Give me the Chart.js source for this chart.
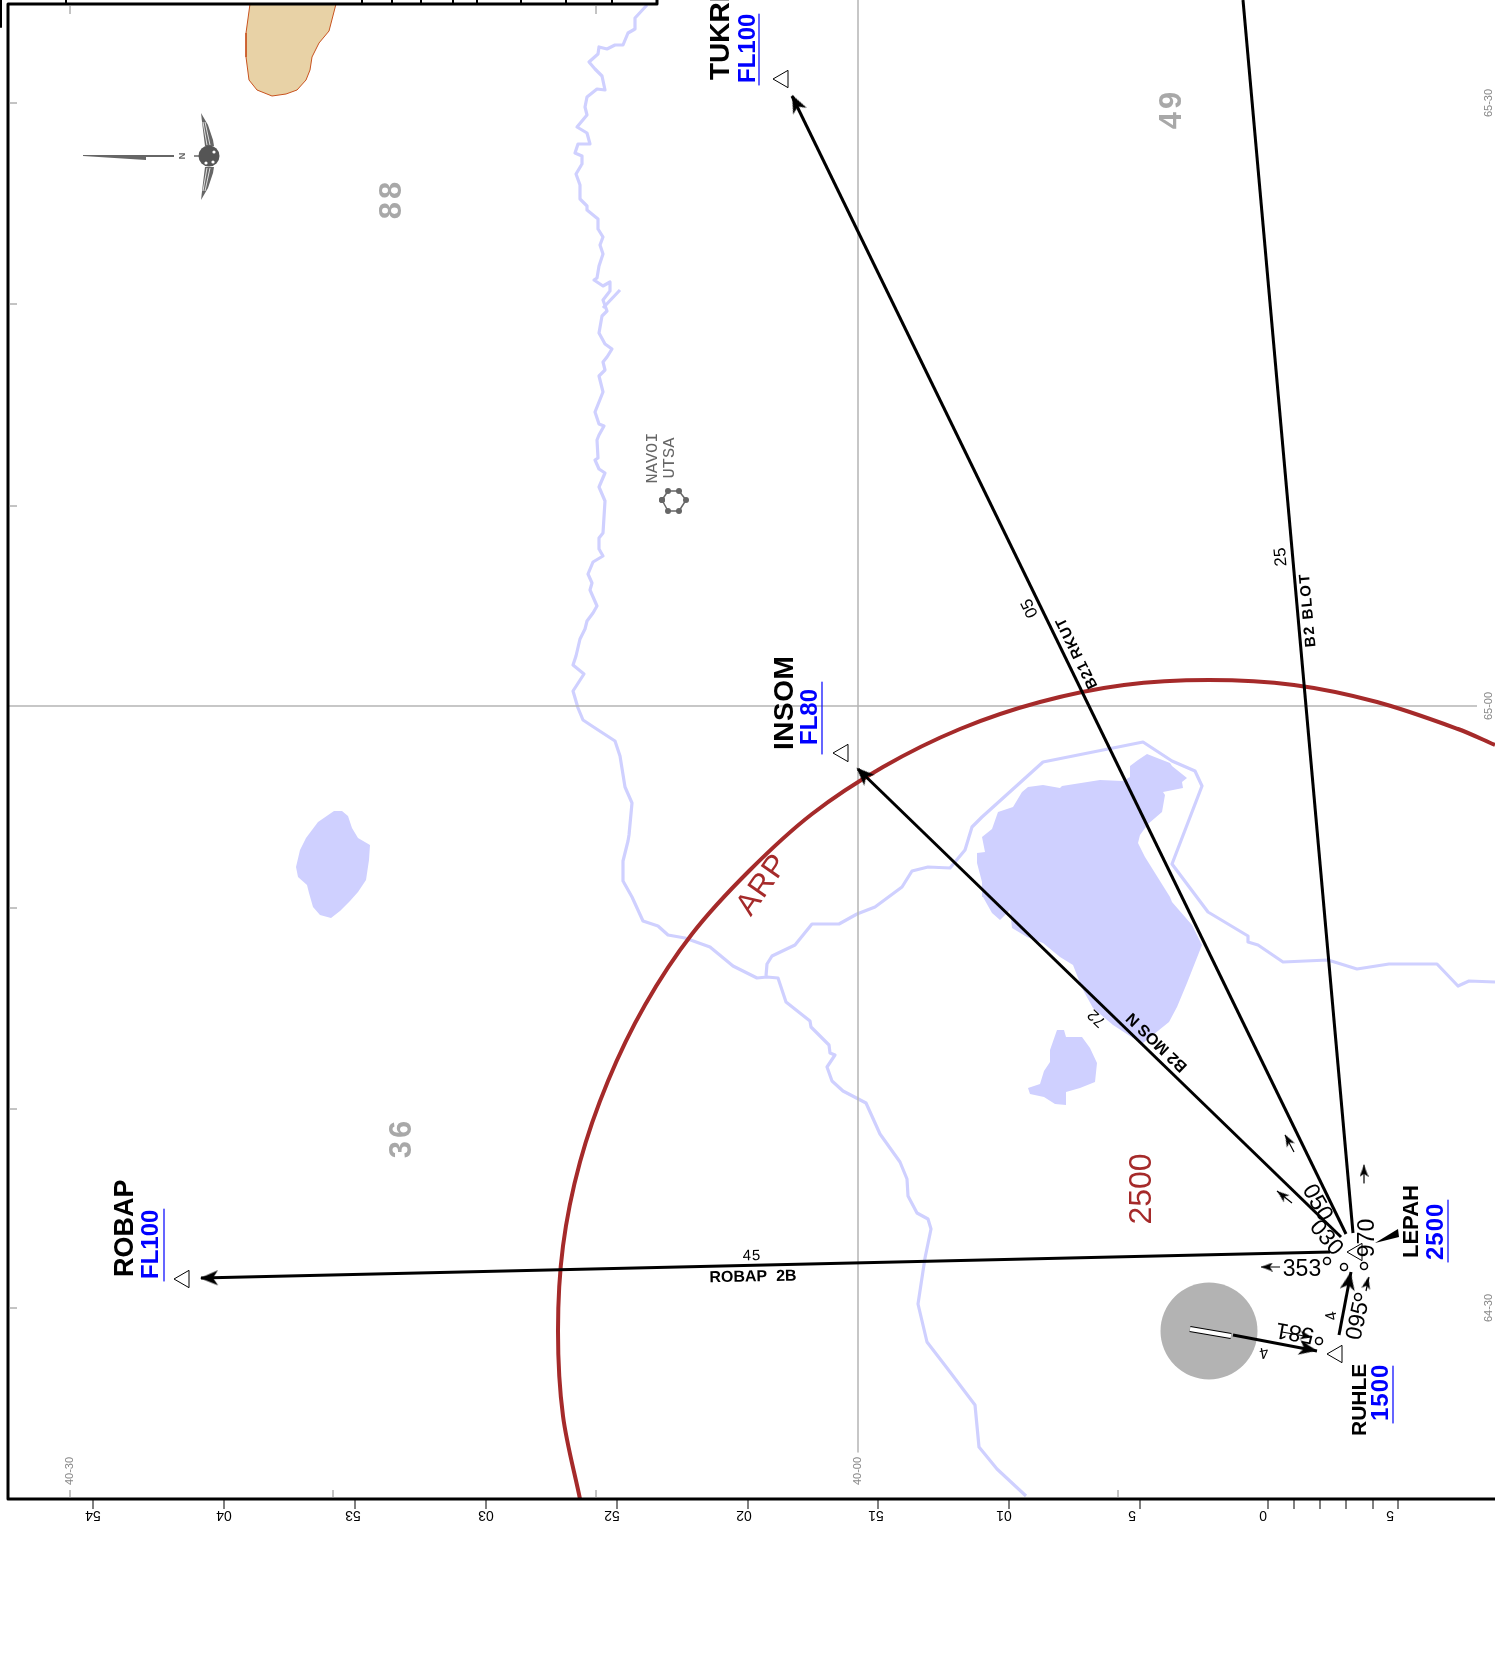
<!DOCTYPE html>
<html>
<head>
<meta charset="utf-8">
<title>Chart</title>
<script src="https://cdn.jsdelivr.net/npm/chart.js@4"></script>
<style>
  html, body { margin: 0; padding: 0; background: #fff; }
  canvas { display: block; }
</style>
</head>
<body>
<canvas id="map" width="1495" height="1663"></canvas>
<script>
// map units
const westRiver = [[647,5],[635,18],[635,29],[628,33],[623,45],[615,45],[607,49],[599,47],[598,54],[589,62],[595,69],[602,76],[605,90],[597,89],[587,97],[585,107],[587,115],[577,127],[587,133],[590,144],[578,144],[575,153],[582,156],[582,164],[576,174],[580,185],[580,199],[587,206],[587,210],[598,219],[598,229],[603,237],[600,245],[603,254],[599,266],[597,278],[594,280],[603,286],[610,282],[610,291],[603,300],[607,311],[602,316],[599,333],[605,344],[612,349],[607,357],[603,362],[605,370],[599,376],[603,392],[595,412],[599,424],[604,426],[599,435],[597,440],[598,458],[595,460],[599,469],[605,473],[599,487],[605,501],[603,533],[599,538],[599,549],[603,556],[598,559],[593,562],[588,574],[592,583],[590,590],[597,606],[593,613],[587,621],[585,629],[580,639],[576,656],[573,665],[584,674],[573,691],[578,708],[583,720],[592,726],[615,741],[620,756],[625,787],[632,803],[629,835],[628,841],[623,861],[623,881],[632,897],[643,921],[658,926],[668,935],[685,938],[710,947],[733,966],[757,978],[767,977],[778,978],[786,1002],[810,1021],[811,1027],[829,1045],[830,1053],[835,1055],[827,1067],[832,1081],[843,1091],[866,1103],[880,1134],[900,1162],[907,1179],[908,1196],[917,1213],[928,1219],[931,1229],[925,1258],[918,1304],[927,1342],[947,1368],[975,1405],[979,1447],[997,1469],[1026,1496]];
const westRiverSpur = [[603,308],[620,290]];
const lakeRiver = [[766,976],[767,964],[772,956],[795,945],[812,924],[839,924],[857,914],[875,907],[902,887],[912,871],[928,867],[950,868],[965,850],[972,827],[982,817],[1043,762],[1143,742],[1172,761],[1195,771],[1202,786],[1172,864],[1208,912],[1248,936],[1248,942],[1258,945],[1283,962],[1328,960],[1357,969],[1389,964],[1437,964],[1458,986],[1469,981],[1495,982]];

const bigLake = [[1028,787],[1043,785],[1060,788],[1062,786],[1100,780],[1123,781],[1130,777],[1130,766],[1138,760],[1147,754],[1170,763],[1172,766],[1187,778],[1182,782],[1183,788],[1163,792],[1165,795],[1162,812],[1148,824],[1140,835],[1138,843],[1145,857],[1170,897],[1172,902],[1192,925],[1202,945],[1187,983],[1177,1007],[1169,1022],[1143,1043],[1133,1038],[1113,1025],[1093,1008],[1082,988],[1073,965],[1060,957],[1043,943],[1027,937],[1012,928],[1010,910],[1000,920],[992,913],[983,897],[982,882],[977,863],[977,853],[985,852],[982,837],[992,829],[998,812],[1013,807],[1022,792]];
const smallLake = [[1057,1030],[1064,1030],[1066,1037],[1082,1037],[1090,1048],[1097,1063],[1095,1082],[1080,1088],[1066,1092],[1066,1105],[1055,1104],[1044,1097],[1030,1094],[1028,1088],[1040,1084],[1044,1071],[1050,1062],[1050,1050]];
const westLake = [[334,811],[342,811],[348,816],[352,828],[358,838],[370,845],[369,860],[366,880],[358,892],[350,901],[340,911],[331,918],[320,915],[313,907],[309,893],[307,885],[298,877],[296,867],[300,850],[306,838],[318,822]];
const sandArea = [[250,4],[246,33],[246,57],[249,80],[257,90],[272,96],[286,94],[297,90],[306,80],[310,70],[312,57],[319,43],[329,31],[336,4]];

const arpArc = [[580,1499],[563,1416],[558,1331],[563,1246],[580,1162],[608,1081],[645,1005],[692,934],[749,871],[812,814],[883,767],[960,729],[1040,702],[1124,685],[1209,680],[1294,685],[1377,702],[1458,729],[1495,745]];

const routeTukri = [[1346,1234],[792,96]];
const routeBlot = [[1353,1233],[1243,0]];
const routeInsom = [[1341,1237],[858,769]];
const routeRobap = [[1330,1252],[201,1278]];
const legLepah = [[1339,1335],[1351,1272]];
const legRuhle = [[1233,1335],[1317,1351]];
const smallArrowShafts = [[1285,1135],[1294,1152],[null,null],[1277,1191],[1292,1203],[null,null],[1364,1165],[1364,1183],[null,null],[1261,1267],[1280,1267],[null,null],[1369,1277],[1366,1291],[null,null],[1282,1332],[1310,1337]];

const arrowHeads = [[796,103],[863,774],[209,1278],[1349,1281],[1308,1349]];
const arrowHeadAngles = [-26,-46,-91,11,101];
const smallArrowHeads = [[1288,1140],[1282,1195],[1364,1171],[1267,1267],[1367,1283],[1306,1336]];
const smallArrowAngles = [-28,-51,0,-90,12,100];

const waypoints = [[783,79],[843,753],[184,1279],[1337,1354],[1357,1252]];
const degreeMarks = [[1327,1261],[1344,1267],[1364,1266],[1358,1297],[1319,1341]];
const airport = [[1209,1331]];
const runway = [[1190,1329],[1231,1336]];
const navaid = [[662,500],[668,491],[679,491],[686,500],[679,511],[668,511],[662,500]];

const underlines = [[759,14],[759,85],[null,null],[822,682],[822,754],[null,null],[164,1209],[164,1281],[null,null],[1448,1200],[1448,1262],[null,null],[1393,1366],[1393,1423]];
const windFan = [[1375,1243],[1398,1229],[1399,1237]];

const compassNeedle = [[83,155],[174,155],[174,157],[146,157],[146,160],[83,156]];
const compassStem = [[194,156],[201,156]];
const compassGlobe = [[209,156]];
const globeSpots = [[214,152],[206,163],[213,162]];
const wingUpper = [[201,113],[208,125],[213,140],[214,146],[205,146],[203,130]];
const wingLower = [[201,200],[208,188],[213,173],[214,167],[205,167],[203,183]];
const wingFeathers = [[203,122],[207,145],[null,null],[205,122],[210,145],[null,null],[203,191],[207,168],[null,null],[205,191],[210,168]];

const frame = [[657,0],[657,4],[8,4],[8,1499],[1495,1499]];
const insetDividers = [[66,0],[66,4],[null,null],[362,0],[362,4],[null,null],[392,0],[392,4],[null,null],[421,0],[421,4],[null,null],[453,0],[453,4],[null,null],[477,0],[477,4],[null,null],[521,0],[521,4],[null,null],[566,0],[566,4],[null,null],[612,0],[612,4]];
const cornerBar = [[1,0],[1,27]];
const gridLat = [[8,706],[1477,706]];
const gridLon = [[858,0],[858,1452]];

// frame ticks
const leftTicks = [103,304,506,908,1109,1308];
const topTicks = [70,596];
const bottomTicks = [70,333,596,1118];
const bottomMajorTicks = [93,224,355,486,617,748,878,1009,1140,1268];
const bottomFineTicks = [1294,1320,1346,1373,1398];

const scaleLabels = ['54','04','53','03','52','02','51','01','5','0','5'];
const scaleLabelPos = [93,224,353,486,612,744,876,1004,1132,1263,1390];

const RIVER = '#cfd0ff', LAKE = '#cfd0ff', GREY = '#b5b5b5', RED = '#a52a2a', BLUE = '#0000ff';
const SANS = '"Liberation Sans", sans-serif';

const annotations = [
  // waypoints
  { t: 'TUKRI', x: 721, y: 80, r: -90, f: `bold 28px ${SANS}`, a: 'left' },
  { t: 'FL100', x: 748, y: 83, r: -90, f: `bold 24px ${SANS}`, c: BLUE, a: 'left' },
  { t: 'INSOM', x: 785, y: 750, r: -90, f: `bold 28px ${SANS}`, a: 'left', ls: 0.5 },
  { t: 'FL80', x: 810, y: 745, r: -90, f: `bold 24px ${SANS}`, c: BLUE, a: 'left' },
  { t: 'ROBAP', x: 126, y: 1277, r: -90, f: `bold 27px ${SANS}`, a: 'left' },
  { t: 'FL100', x: 151, y: 1279, r: -90, f: `bold 24px ${SANS}`, c: BLUE, a: 'left' },
  { t: 'LEPAH', x: 1412, y: 1258, r: -90, f: `bold 22px ${SANS}`, a: 'left' },
  { t: '2500', x: 1436, y: 1260, r: -90, f: `bold 24px ${SANS}`, c: BLUE, a: 'left', ls: 1 },
  { t: 'RUHLE', x: 1360, y: 1436, r: -90, f: `bold 21px ${SANS}`, a: 'left' },
  { t: '1500', x: 1381, y: 1421, r: -90, f: `bold 24px ${SANS}`, c: BLUE, a: 'left', ls: 1 },
  // area figures
  { t: '88', x: 392, y: 199, r: -90, f: `bold 31px ${SANS}`, c: '#a8a8a8', ls: 3 },
  { t: '49', x: 1172, y: 109, r: -90, f: `bold 31px ${SANS}`, c: '#a8a8a8', ls: 3 },
  { t: '36', x: 402, y: 1138, r: -90, f: `bold 31px ${SANS}`, c: '#a8a8a8', ls: 3 },
  { t: 'ARP', x: 763, y: 885, r: -55, f: `31px ${SANS}`, c: RED, ls: 1 },
  { t: '2500', x: 1142, y: 1189, r: -90, f: `32px ${SANS}`, c: RED },
  { t: 'NAVOI', x: 652, y: 458, r: -90, f: '17px "Liberation Mono", monospace', c: '#666' },
  { t: 'UTSA', x: 669, y: 458, r: -90, f: '17px "Liberation Mono", monospace', c: '#666' },
  { t: 'N', x: 183, y: 156, r: -90, f: `bold 9px ${SANS}`, c: '#666' },
  // route labels
  { t: 'B21 RKUT', x: 1077, y: 653, r: -116, f: `bold 15px ${SANS}`, ls: 0.5 },
  { t: '05', x: 1030, y: 608, r: -116, f: `17px ${SANS}` },
  { t: '25', x: 1281, y: 557, r: -95, f: `17px ${SANS}` },
  { t: 'B2 BLOT', x: 1308, y: 610, r: -95, f: `bold 15px ${SANS}`, ls: 1.5 },
  { t: 'B2 MOS N', x: 1157, y: 1042, r: -136, f: `bold 16px ${SANS}` },
  { t: '72', x: 1097, y: 1018, r: -136, f: `16px ${SANS}` },
  { t: '45', x: 752, y: 1256, r: -1, f: `15px ${SANS}`, ls: 1 },
  { t: 'ROBAP  2B', x: 753, y: 1277, r: -1, f: `bold 16px ${SANS}` },
  // courses near the field
  { t: '050', x: 1317, y: 1203, r: 60, f: `23px ${SANS}` },
  { t: '030', x: 1326, y: 1238, r: 50, f: `23px ${SANS}` },
  { t: '353', x: 1302, y: 1270, r: 0, f: `23px ${SANS}` },
  { t: '970', x: 1368, y: 1238, r: -90, f: `23px ${SANS}` },
  { t: '095', x: 1358, y: 1321, r: -78, f: `23px ${SANS}` },
  { t: '581', x: 1295, y: 1332, r: 190, f: `23px ${SANS}` },
  { t: '4', x: 1332, y: 1316, r: -100, f: `16px ${SANS}` },
  { t: '4', x: 1264, y: 1352, r: 170, f: `16px ${SANS}` },
  // graticule values
  { t: '40-30', x: 70, y: 1471, r: -90, f: `11px ${SANS}`, c: '#888' },
  { t: '40-00', x: 858, y: 1471, r: -90, f: `11px ${SANS}`, c: '#888' },
  { t: '65-30', x: 1489, y: 103, r: -90, f: `11px ${SANS}`, c: '#888' },
  { t: '65-00', x: 1489, y: 706, r: -90, f: `11px ${SANS}`, c: '#888' },
  { t: '64-30', x: 1489, y: 1308, r: -90, f: `11px ${SANS}`, c: '#888' }
];

const pts = a => a.map(([x, y]) => ({ x, y }));

// barbed arrow head, point up, used as a pointStyle
function headImage(w, h) {
  const c = document.createElement('canvas');
  c.width = w; c.height = h;
  const g = c.getContext('2d');
  g.fillStyle = '#000';
  g.beginPath();
  g.moveTo(w / 2, 0);
  g.lineTo(w, h);
  g.lineTo(w / 2, h * 0.72);
  g.lineTo(0, h);
  g.closePath();
  g.fill();
  return c;
}

function path(data, color, width, extra) {
  return Object.assign({
    data: pts(data), showLine: true, borderColor: color, borderWidth: width,
    pointRadius: 0, fill: false, tension: 0, spanGaps: false,
    borderCapStyle: 'butt', borderJoinStyle: 'round'
  }, extra || {});
}
function area(data, color, edge, edgeWidth) {
  const closed = data.concat([data[0]]);
  return path(closed, edge || color, edgeWidth || 0, { fill: 'shape', backgroundColor: color });
}
function marks(data, style, radius, fillColor, edge, edgeWidth, angles) {
  return {
    data: pts(data), showLine: false, pointStyle: style, pointRadius: radius,
    backgroundColor: fillColor, borderColor: edge, pointBorderWidth: edgeWidth,
    pointRotation: angles || 0
  };
}

// listed bottom to top
const datasets = [
  area(sandArea, '#e8d2a6', '#c8521e', 1),
  area(westLake, LAKE), area(bigLake, LAKE), area(smallLake, LAKE),
  path(westRiver, RIVER, 3.2), path(westRiverSpur, RIVER, 3.2), path(lakeRiver, RIVER, 3.2),
  path(gridLat, GREY, 1.5), path(gridLon, GREY, 1.5),
  marks(airport, 'circle', 48.5, '#b3b3b3', '#b3b3b3', 0),
  path(arpArc, RED, 4, { tension: 0.33 }),
  path(runway, '#000', 6), path(runway, '#fff', 4),
  path(routeTukri, '#000', 3), path(routeBlot, '#000', 3), path(routeInsom, '#000', 3), path(routeRobap, '#000', 3),
  path(legLepah, '#000', 3), path(legRuhle, '#000', 3),
  path(smallArrowShafts, '#000', 1.2),
  marks(arrowHeads, headImage(15, 18), 8, '#000', '#000', 0, arrowHeadAngles),
  marks(smallArrowHeads, headImage(9, 12), 5, '#000', '#000', 0, smallArrowAngles),
  marks(waypoints, 'triangle', 10, '#fff', '#000', 1, -90),
  marks(degreeMarks, 'circle', 3.5, '#fff', '#000', 1.5),
  path(underlines, BLUE, 1.2),
  area(windFan, '#000'),
  path(navaid, '#666', 1.5, { pointRadius: 3, pointBackgroundColor: '#666', pointBorderWidth: 0 }),
  area(compassNeedle, '#666'), path(compassStem, '#666', 1.5),
  area(wingUpper, '#666'), area(wingLower, '#666'), path(wingFeathers, '#fff', 0.8),
  marks(compassGlobe, 'circle', 10.5, '#555', '#555', 0),
  marks(globeSpots, 'circle', 1.6, '#fff', '#fff', 0),
  path(frame, '#000', 3), path(insetDividers, '#000', 2), path(cornerBar, '#000', 2)
];
datasets.forEach((d, i) => { d.order = -i; });

const mapText = {
  id: 'mapText',
  afterDraw(chart) {
    const { ctx, scales: { x, y } } = chart;
    const line = (x0, y0, x1, y1, color, w) => {
      ctx.strokeStyle = color; ctx.lineWidth = w;
      ctx.beginPath();
      ctx.moveTo(x.getPixelForValue(x0), y.getPixelForValue(y0));
      ctx.lineTo(x.getPixelForValue(x1), y.getPixelForValue(y1));
      ctx.stroke();
    };
    ctx.save();
    leftTicks.forEach(v => line(9, v, 17, v, '#888', 1));
    topTicks.forEach(v => line(v, 6, v, 14, '#888', 1));
    bottomTicks.forEach(v => line(v, 1498, v, 1490, '#888', 1));
    bottomMajorTicks.forEach(v => line(v, 1500, v, 1509, '#000', 1));
    bottomFineTicks.forEach(v => line(v, 1500, v, 1509, '#000', 1));

    const write = (t, vx, vy, r, f, c, a, ls) => {
      ctx.save();
      ctx.translate(x.getPixelForValue(vx), y.getPixelForValue(vy));
      ctx.rotate(r * Math.PI / 180);
      ctx.font = f;
      ctx.letterSpacing = (ls || 0) + 'px';
      ctx.fillStyle = c || '#000';
      ctx.textAlign = a || 'center';
      ctx.textBaseline = 'middle';
      ctx.fillText(t, 0, 0);
      ctx.restore();
    };
    scaleLabels.forEach((t, i) => write(t, scaleLabelPos[i], 1515, 180, `14px ${SANS}`));
    annotations.forEach(n => write(n.t, n.x, n.y, n.r, n.f, n.c, n.a, n.ls));
    ctx.restore();
  }
};

new Chart(document.getElementById('map').getContext('2d'), {
  type: 'scatter',
  data: { datasets },
  plugins: [mapText],
  options: {
    responsive: false,
    animation: false,
    events: [],
    layout: { padding: 0, autoPadding: false },
    scales: {
      x: { type: 'linear', min: 0, max: 1495, display: false },
      y: { type: 'linear', min: 0, max: 1663, reverse: true, display: false }
    },
    plugins: { legend: { display: false }, tooltip: { enabled: false }, title: { display: false } }
  }
});
</script>
</body>
</html>
